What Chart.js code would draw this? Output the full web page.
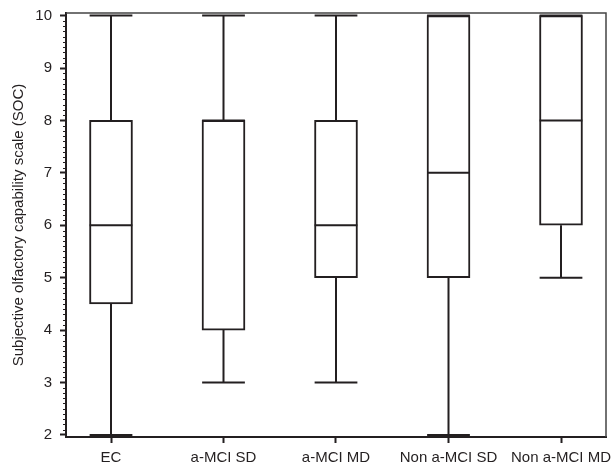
<!DOCTYPE html>
<html lang="en">
<head>
    <meta charset="UTF-8">
    <title>SOC box plot</title>
    <style>
        html, body { margin: 0; padding: 0; background: #fff; }
        #wrap { width: 613px; height: 471px; }
    </style>
</head>
<body>
    <div id="wrap"><canvas id="socChart" width="613" height="471"></canvas></div>

    <script src="https://cdn.jsdelivr.net/npm/chart.js"></script>
    <script>
        // groups and box plot values
        const groups = ['EC', 'a-MCI SD', 'a-MCI MD', 'Non a-MCI SD', 'Non a-MCI MD'];
        const mins    = [2,   3, 3, 2,  5];
        const q1s     = [4.5, 4, 5, 5,  6];
        const medians = [6,   8, 6, 7,  8];
        const q3s     = [8,   8, 8, 10, 10];
        const maxs    = [10, 10, 10, 10, 10];
        const yTicks  = [2, 3, 4, 5, 6, 7, 8, 9, 10];

        const INK = '#231f20';
        const FONT = "'Liberation Sans', Arial, sans-serif";
        const BOX_HALF = 0.19; // half box width, in x units

        // whiskers, caps, medians, minor ticks and the frame
        const boxExtras = {
            id: 'boxExtras',
            afterDatasetsDraw(chart) {
                const { ctx, scales: { x, y }, chartArea: area } = chart;
                ctx.save();
                ctx.strokeStyle = INK;
                ctx.lineWidth = 2;
                groups.forEach((g, i) => {
                    const cx = x.getPixelForValue(i);
                    const l = x.getPixelForValue(i - BOX_HALF);
                    const r = x.getPixelForValue(i + BOX_HALF);
                    ctx.beginPath();
                    // upper whisker
                    if (maxs[i] > q3s[i]) {
                        ctx.moveTo(cx, y.getPixelForValue(q3s[i]));
                        ctx.lineTo(cx, y.getPixelForValue(maxs[i]));
                    }
                    // lower whisker
                    if (mins[i] < q1s[i]) {
                        ctx.moveTo(cx, y.getPixelForValue(q1s[i]));
                        ctx.lineTo(cx, y.getPixelForValue(mins[i]));
                    }
                    // caps
                    ctx.moveTo(l, y.getPixelForValue(maxs[i]));
                    ctx.lineTo(r, y.getPixelForValue(maxs[i]));
                    ctx.moveTo(l, y.getPixelForValue(mins[i]));
                    ctx.lineTo(r, y.getPixelForValue(mins[i]));
                    // median
                    ctx.moveTo(l, y.getPixelForValue(medians[i]));
                    ctx.lineTo(r, y.getPixelForValue(medians[i]));
                    ctx.stroke();
                });

                // minor ticks on y axis
                ctx.lineWidth = 1;
                ctx.beginPath();
                for (let k = 20; k <= 100; k++) {
                    if (k % 10 === 0) continue;
                    const py = Math.round(y.getPixelForValue(k / 10)) + 0.5;
                    ctx.moveTo(area.left - 3, py);
                    ctx.lineTo(area.left, py);
                }
                ctx.stroke();

                // top and right frame
                ctx.strokeStyle = '#444';
                ctx.lineWidth = 1.5;
                ctx.beginPath();
                ctx.moveTo(area.left, area.top);
                ctx.lineTo(area.right, area.top);
                ctx.lineTo(area.right, area.bottom);
                ctx.stroke();
                ctx.restore();
            }
        };

        const ctx = document.getElementById('socChart').getContext('2d');
        const chart = new Chart(ctx, {
            type: 'bar',
            data: {
                datasets: [{
                    label: 'SOC',
                    data: groups.map((g, i) => ({ x: i, y: [q1s[i], q3s[i]] })),
                    backgroundColor: '#ffffff',
                    borderColor: INK,
                    borderWidth: 2,
                    borderSkipped: false,
                    barThickness: 43
                }]
            },
            options: {
                responsive: false,
                animation: false,
                layout: { padding: { top: 13, right: 7, left: 0, bottom: 0 } },
                plugins: {
                    legend: { display: false },
                    tooltip: { enabled: false }
                },
                scales: {
                    x: {
                        type: 'linear',
                        offset: false,
                        min: -0.4,
                        max: 4.4,
                        afterBuildTicks: (axis) => {
                            axis.ticks = groups.map((g, i) => ({ value: i }));
                        },
                        afterFit: (axis) => {
                            axis.height = 34;
                            axis.paddingLeft = 0;
                            axis.paddingRight = 0;
                        },
                        ticks: {
                            callback: (v) => groups[v],
                            color: INK,
                            font: { family: FONT, size: 15 },
                            padding: 6,
                            maxRotation: 0,
                            autoSkip: false
                        },
                        grid: { offset: false, drawOnChartArea: false, tickLength: 6, tickColor: INK, tickWidth: 2 },
                        border: { color: INK, width: 2 }
                    },
                    y: {
                        min: 1.96,
                        max: 10.05,
                        afterBuildTicks: (axis) => {
                            axis.ticks = yTicks.map(v => ({ value: v }));
                        },
                        afterFit: (axis) => {
                            axis.width = 66;
                            axis.paddingTop = 0;
                            axis.paddingBottom = 0;
                        },
                        title: {
                            display: true,
                            text: 'Subjective olfactory capability scale (SOC)',
                            color: INK,
                            font: { family: FONT, size: 15 },
                            padding: { top: 10, bottom: 6 }
                        },
                        ticks: {
                            color: INK,
                            font: { family: FONT, size: 15 },
                            padding: 8
                        },
                        grid: { drawOnChartArea: false, tickLength: 6, tickColor: INK, tickWidth: 2 },
                        border: { color: INK, width: 2 }
                    }
                }
            },
            plugins: [boxExtras]
        });
    </script>
</body>
</html>
